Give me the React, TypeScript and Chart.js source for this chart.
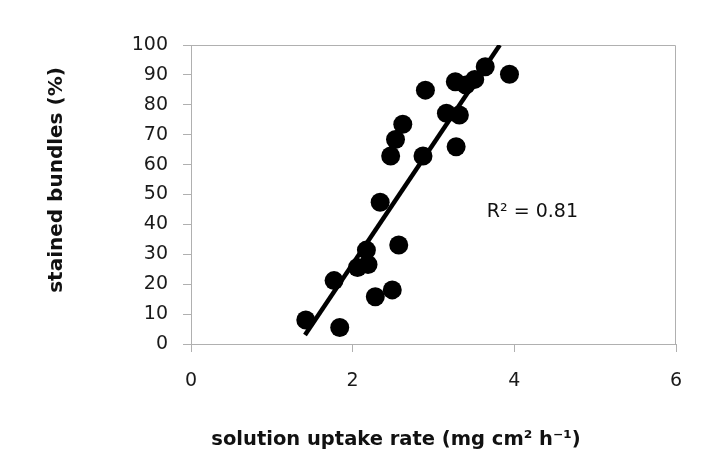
import React, { useEffect, useRef } from "react";
import { Chart, registerables } from "chart.js";

Chart.register(...registerables);

const uptakeRate = [1.42, 1.84, 1.77, 2.06, 2.19, 2.17, 2.28, 2.49, 2.57, 2.34, 2.47, 2.53, 2.62, 2.9, 2.87, 3.16, 3.32, 3.28, 3.27, 3.4, 3.51, 3.64, 3.94];
const stainedPct = [8.0, 5.5, 21.2, 25.6, 26.6, 31.4, 15.8, 18.1, 33.1, 47.4, 62.9, 68.4, 73.5, 84.9, 62.9, 77.2, 76.6, 66.0, 87.7, 86.6, 88.5, 92.7, 90.2];
const trendX = [1.41, 3.82];
const trendY = [3.0, 100];
const xTicks = [0, 2, 4, 6];
const yTicks = [0, 10, 20, 30, 40, 50, 60, 70, 80, 90, 100];
const xTitle = "solution uptake rate (mg cm² h⁻¹)";
const yTitle = "stained bundles (%)";
const r2Label = "R² = 0.81";

const FONT = "'DejaVu Sans', Verdana, sans-serif";

const textPlugin = {
  id: "texts",
  beforeDatasetsDraw(chart: any) {
    const ctx = chart.ctx;
    const area = chart.chartArea;
    ctx.save();
    // top and right border lines of the plot box
    ctx.strokeStyle = "#b0b0b0";
    ctx.lineWidth = 1;
    ctx.beginPath();
    ctx.moveTo(area.left, area.top + 0.5);
    ctx.lineTo(area.right - 0.5, area.top + 0.5);
    ctx.lineTo(area.right - 0.5, area.bottom);
    ctx.stroke();
    ctx.restore();
  },
  afterDraw(chart: any) {
    const ctx = chart.ctx;
    ctx.save();
    ctx.fillStyle = "#111";
    ctx.font = `bold 19.5px ${FONT}`;
    ctx.textAlign = "center";
    ctx.textBaseline = "middle";
    ctx.fillText(xTitle, 396, 440);
    ctx.translate(57, 180);
    ctx.rotate(-Math.PI / 2);
    ctx.font = `bold 20px ${FONT}`;
    ctx.fillText(yTitle, 0, 0);
    ctx.restore();

    ctx.save();
    ctx.fillStyle = "#111";
    ctx.font = `19px ${FONT}`;
    ctx.textAlign = "left";
    ctx.textBaseline = "alphabetic";
    const xs = chart.scales.x;
    const ys = chart.scales.y;
    ctx.fillText(r2Label, xs.getPixelForValue(3.66), ys.getPixelForValue(42.5));
    ctx.restore();
  },
};

export default function App() {
  const ref = useRef<HTMLCanvasElement>(null);
  useEffect(() => {
    document.body.style.margin = "0";
    const canvas = ref.current!;
    const chart = new Chart(canvas, {
      type: "scatter",
      data: {
        datasets: [
          {
            label: "trend",
            data: trendX.map((x, i) => ({ x, y: trendY[i] })),
            showLine: true,
            borderColor: "#000",
            borderWidth: 4.5,
            pointRadius: 0,
            order: 1,
          },
          {
            label: "points",
            data: uptakeRate.map((x, i) => ({ x, y: stainedPct[i] })),
            backgroundColor: "#000",
            borderColor: "#000",
            pointRadius: 9.5,
            pointBorderWidth: 0,
            order: 2,
          },
        ],
      },
      options: {
        responsive: false,
        animation: false,
        devicePixelRatio: 1,
        layout: { padding: { left: 0, top: 45, right: 26, bottom: 0 } },
        plugins: { legend: { display: false }, tooltip: { enabled: false } },
        scales: {
          x: {
            type: "linear",
            min: 0,
            max: 6,
            afterBuildTicks: (s: any) => {
              s.ticks = xTicks.map((v) => ({ value: v }));
            },
            afterFit: (s: any) => {
              s.height = 115;
            },
            ticks: {
              color: "#1a1a1a",
              font: { family: FONT, size: 19 },
              padding: 18,
            },
            grid: { drawOnChartArea: false, drawTicks: true, tickLength: 8, color: "#b0b0b0" },
            border: { color: "#b0b0b0", width: 1 },
          },
          y: {
            type: "linear",
            min: 0,
            max: 100,
            afterBuildTicks: (s: any) => {
              s.ticks = yTicks.map((v) => ({ value: v }));
            },
            afterFit: (s: any) => {
              s.width = 191;
            },
            ticks: {
              color: "#1a1a1a",
              font: { family: FONT, size: 19 },
              padding: 15,
            },
            grid: { drawOnChartArea: false, drawTicks: true, tickLength: 8, color: "#b0b0b0" },
            border: { color: "#b0b0b0", width: 1 },
          },
        },
      },
      plugins: [textPlugin],
    });
    return () => chart.destroy();
  }, []);
  return <canvas ref={ref} width={702} height={459} style={{ width: 702, height: 459, display: "block" }} />;
}
